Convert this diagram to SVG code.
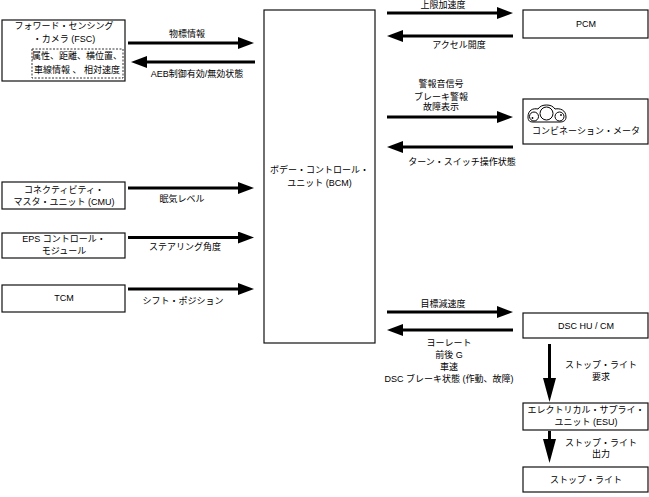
<svg xmlns="http://www.w3.org/2000/svg" width="649" height="497" viewBox="0 0 649 497">
<style>
text{font-family:"Liberation Sans","Noto Sans CJK JP",sans-serif;font-size:9px;fill:#000;text-anchor:middle}
.box{fill:#fff;stroke:#111;stroke-width:1.2}
.dash{fill:none;stroke:#333;stroke-width:1;stroke-dasharray:2,1.5}
.ar{stroke:#000;stroke-width:3;fill:none}
.arh{marker-end:url(#ah)}
.arv{marker-end:url(#av)}
.ic{fill:none;stroke:#000;stroke-width:1}
</style>
<defs>
<marker id="ah" markerUnits="userSpaceOnUse" markerWidth="16" markerHeight="12" viewBox="0 0 16 12" refX="1" refY="6" orient="auto"><path d="M0,0 L16,6 L0,12 z" fill="#000"/></marker>
<marker id="av" markerUnits="userSpaceOnUse" markerWidth="24" markerHeight="13" viewBox="0 0 24 13" refX="1" refY="6.5" orient="auto"><path d="M0,0 L24,6.5 L0,13 z" fill="#000"/></marker>
</defs>
<rect width="649" height="497" fill="#fff"/>

<g id="fsc">
<rect class="box" x="2" y="20" width="123" height="61"/>
<text x="64" y="29">フォワード・センシング</text>
<text x="64" y="42">・カメラ (FSC)</text>
<rect class="dash" x="32" y="49" width="91" height="29"/>
<text x="77" y="59">属性、距離、横位置、</text>
<text x="77" y="73">車線情報 、 相対速度</text>
</g>
<g id="bcm">
<rect class="box" x="264" y="10" width="111" height="333"/>
<text x="319.5" y="173">ボデー・コントロール・</text>
<text x="319.5" y="186">ユニット (BCM)</text>
</g>
<g id="cmu">
<rect class="box" x="2" y="182" width="123" height="27"/>
<text x="64" y="192.5">コネクティビティ・</text>
<text x="64" y="204.5">マスタ・ユニット (CMU)</text>
</g>
<g id="eps">
<rect class="box" x="2" y="233" width="123" height="25"/>
<text x="64" y="242">EPS コントロール・</text>
<text x="64" y="254">モジュール</text>
</g>
<g id="tcm">
<rect class="box" x="2" y="285" width="123" height="27"/>
<text x="64" y="301">TCM</text>
</g>
<g id="pcm">
<rect class="box" x="523" y="10" width="125" height="28"/>
<text x="586" y="27">PCM</text>
</g>
<g id="meter">
<rect class="box" x="523" y="99" width="125" height="45"/>
<path class="ic" d="M528,117 C528,110 533,108 538,109 C540,106 543,105 546.5,105 C550,105 553,106 555,109 C560,108 566,110 566,117 C566,121 563,122 560,122 L533,122 C530,122 528,121 528,117 Z"/>
<circle class="ic" cx="534" cy="116.5" r="4.5"/>
<circle class="ic" cx="546.5" cy="113.5" r="6.5"/>
<circle class="ic" cx="559.5" cy="116.5" r="4.5"/>
<circle cx="532.5" cy="118" r="0.9" fill="#000"/>
<circle cx="561" cy="115" r="0.9" fill="#000"/>
<text x="586" y="134">コンビネーション・メータ</text>
</g>
<g id="dsc">
<rect class="box" x="523" y="313" width="125" height="25"/>
<text x="586" y="329">DSC HU / CM</text>
</g>
<g id="esu">
<rect class="box" x="523" y="403" width="125" height="27"/>
<text x="586" y="413">エレクトリカル・サプライ・</text>
<text x="586" y="425">ユニット (ESU)</text>
</g>
<g id="stoplight">
<rect class="box" x="523" y="467" width="125" height="25"/>
<text x="586" y="483">ストップ・ライト</text>
</g>

<g id="connectors">
<line class="ar arh" x1="128" y1="43" x2="239" y2="43"/>
<line class="ar arh" x1="255" y1="62" x2="146" y2="62"/>
<line class="ar arh" x1="128" y1="188" x2="239" y2="188"/>
<line class="ar arh" x1="128" y1="237.5" x2="239" y2="237.5"/>
<line class="ar arh" x1="128" y1="289" x2="239" y2="289"/>
<line class="ar arh" x1="387" y1="13" x2="498" y2="13"/>
<line class="ar arh" x1="513" y1="36" x2="402" y2="36"/>
<line class="ar arh" x1="387" y1="117" x2="498" y2="117"/>
<line class="ar arh" x1="513" y1="147" x2="402" y2="147"/>
<line class="ar arh" x1="387" y1="312" x2="498" y2="312"/>
<line class="ar arh" x1="513" y1="330" x2="402" y2="330"/>
<line class="ar arv" x1="549.5" y1="344" x2="549.5" y2="379"/>
<line class="ar arv" x1="549.5" y1="431" x2="549.5" y2="440"/>
<g id="labels">
<text x="187" y="37">物標情報</text>
<text x="197" y="77">AEB制御有効/無効状態</text>
<text x="182" y="202">眠気レベル</text>
<text x="185" y="250">ステアリング角度</text>
<text x="183" y="304">シフト・ポジション</text>
<text x="443" y="8">上限加速度</text>
<text x="459" y="48">アクセル開度</text>
<text x="441" y="87">警報音信号</text>
<text x="441" y="100">ブレーキ警報</text>
<text x="441" y="110">故障表示</text>
<text x="462" y="165">ターン・スイッチ操作状態</text>
<text x="443" y="307">目標減速度</text>
<text x="449" y="346">ヨーレート</text>
<text x="449" y="358">前後 G</text>
<text x="449" y="370">車速</text>
<text x="449" y="382">DSC ブレーキ状態 (作動、故障)</text>
<text x="601" y="368">ストップ・ライト</text>
<text x="601" y="380">要求</text>
<text x="601" y="446">ストップ・ライト</text>
<text x="601" y="457">出力</text>
</g>
</g>
</svg>
